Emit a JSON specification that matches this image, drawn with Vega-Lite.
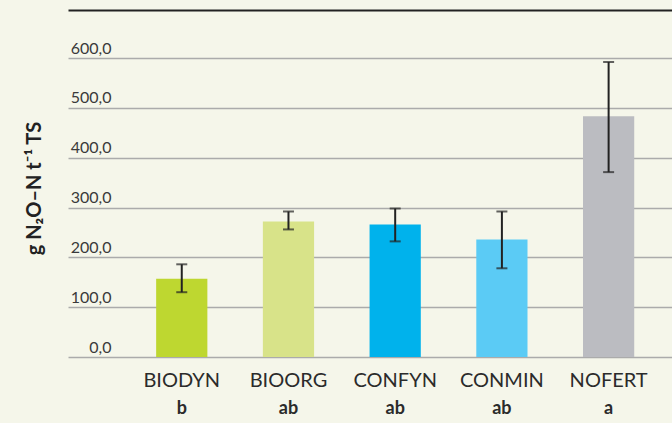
{
  "$schema": "https://vega.github.io/schema/vega-lite/v6.json",
  "autosize": {"type": "none"},
  "padding": {"left": 68, "top": 58, "right": 0, "bottom": 66},
  "width": 604,
  "height": 299,
  "background": "#f5f6ea",
  "config": {
    "view": {"stroke": null},
    "font": "Lato"
  },
  "data": {
    "values": [
      {"treatment": "BIODYN", "letter": "b", "mean": 157, "lo": 130, "hi": 186},
      {"treatment": "BIOORG", "letter": "ab", "mean": 272, "lo": 256, "hi": 292},
      {"treatment": "CONFYN", "letter": "ab", "mean": 266, "lo": 232, "hi": 298},
      {"treatment": "CONMIN", "letter": "ab", "mean": 236, "lo": 178, "hi": 292},
      {"treatment": "NOFERT", "letter": "a", "mean": 483, "lo": 371, "hi": 592}
    ]
  },
  "resolve": {"axis": {"x": "independent"}},
  "encoding": {
    "x": {
      "field": "treatment",
      "type": "nominal",
      "sort": null,
      "scale": {"paddingInner": 0.52, "paddingOuter": 0.59, "align": 0.7}
    }
  },
  "layer": [
    {
      "mark": {"type": "bar"},
      "encoding": {
        "x": {
          "field": "treatment",
          "type": "nominal",
          "sort": null,
          "axis": {
            "orient": "bottom",
            "title": null,
            "domain": false,
            "ticks": false,
            "tickSize": 0,
            "labelAngle": 0,
            "labelPadding": 13,
            "labelFontSize": 20,
            "labelColor": "#2b2b2b",
            "labelFont": "Lato"
          }
        },
        "y": {
          "field": "mean",
          "type": "quantitative",
          "scale": {"domain": [0, 600]},
          "axis": {
            "values": [0, 100, 200, 300, 400, 500, 600],
            "domain": false,
            "ticks": false,
            "tickSize": 0,
            "grid": true,
            "gridColor": "#ababab",
            "gridWidth": 1.5,
            "labelExpr": "replace(format(datum.value, '.1f'), '.', ',')",
            "labelAlign": "right",
            "labelBaseline": "alphabetic",
            "labelPadding": -43,
            "labelOffset": -5,
            "labelFontSize": 16,
            "labelColor": "#3a3a3a",
            "title": "g N₂O–N t⁻¹ TS",
            "titleFont": "Lato, DejaVu Sans",
            "titleFontSize": 20,
            "titleFontWeight": "bold",
            "titleColor": "#222222",
            "titleAngle": -90,
            "titleBaseline": "middle",
            "titleX": -34,
            "titleY": 130
          }
        },
        "color": {
          "field": "treatment",
          "type": "nominal",
          "sort": null,
          "scale": {
            "domain": ["BIODYN", "BIOORG", "CONFYN", "CONMIN", "NOFERT"],
            "range": ["#bed730", "#d8e389", "#00b2ec", "#5bcbf5", "#bbbcc1"]
          },
          "legend": null
        }
      }
    },
    {
      "mark": {"type": "rule", "color": "#222222", "strokeWidth": 2},
      "encoding": {
        "x": {
          "field": "treatment",
          "type": "nominal",
          "sort": null,
          "axis": {
            "orient": "top",
            "title": null,
            "labels": false,
            "ticks": false,
            "tickSize": 0,
            "domain": true,
            "domainColor": "#222222",
            "domainWidth": 2,
            "offset": 48
          }
        },
        "y": {"field": "lo", "type": "quantitative"},
        "y2": {"field": "hi"}
      }
    },
    {
      "mark": {"type": "tick", "color": "#222222", "thickness": 2, "size": 11},
      "encoding": {
        "x": {"field": "treatment", "type": "nominal", "sort": null, "axis": null},
        "y": {"field": "lo", "type": "quantitative"}
      }
    },
    {
      "mark": {"type": "tick", "color": "#222222", "thickness": 2, "size": 11},
      "encoding": {
        "x": {"field": "treatment", "type": "nominal", "sort": null, "axis": null},
        "y": {"field": "hi", "type": "quantitative"}
      }
    },
    {
      "mark": {"type": "text", "fontSize": 18, "fontWeight": "bold", "color": "#2b2b2b", "baseline": "alphabetic", "dy": 57},
      "encoding": {
        "x": {"field": "treatment", "type": "nominal", "sort": null, "axis": null},
        "y": {"datum": 0, "type": "quantitative"},
        "text": {"field": "letter"}
      }
    }
  ]
}
